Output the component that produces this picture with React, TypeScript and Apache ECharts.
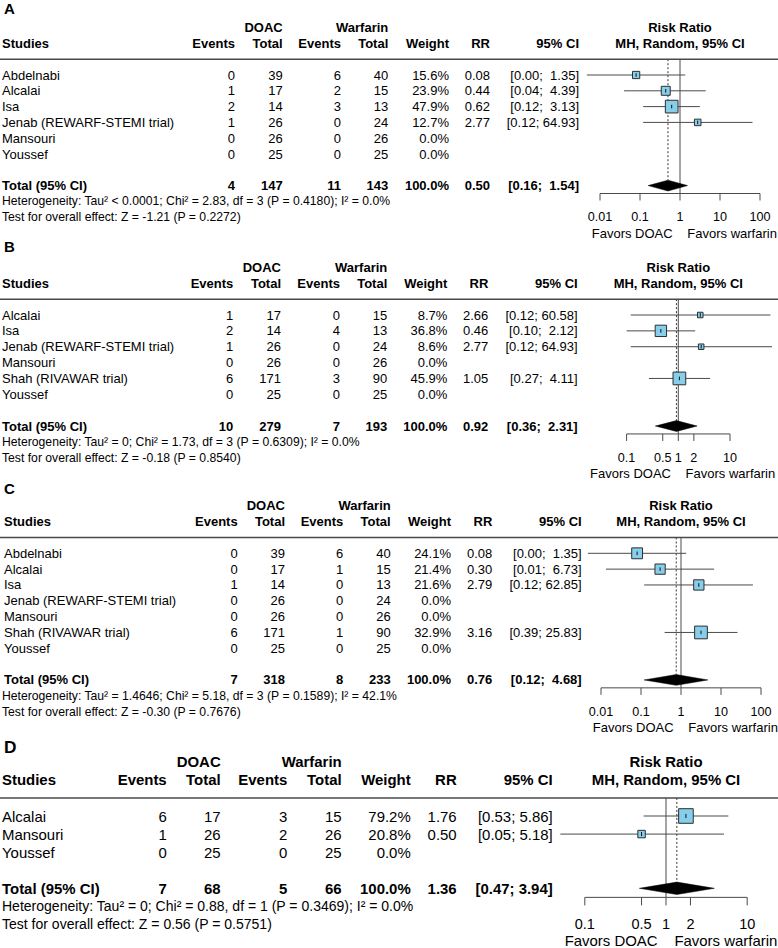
import React, { useEffect, useRef } from "react";
import * as echarts from "echarts";

const FONT = '"Liberation Sans", Arial, Helvetica, sans-serif';
const INK = "#000000";
const LINE = "#4a4a4a";
const BOX_FILL = "#87CEEB";
const BOX_EDGE = "#2e2e2e";

// ---------- Panel A ----------
const studiesA = ["Abdelnabi", "Alcalai", "Isa", "Jenab (REWARF-STEMI trial)", "Mansouri", "Youssef"];
const doacEventsA = [0, 1, 2, 1, 0, 0];
const doacTotalA = [39, 17, 14, 26, 26, 25];
const warfEventsA = [6, 2, 3, 0, 0, 0];
const warfTotalA = [40, 15, 13, 24, 26, 25];
const weightA = [15.6, 23.9, 47.9, 12.7, 0, 0];
const rrA = [0.08, 0.44, 0.62, 2.77, null, null];
const lowerA = [0.0047, 0.04, 0.12, 0.12, null, null];
const upperA = [1.35, 4.39, 3.13, 64.93, null, null];
const totalCountsA = [4, 147, 11, 143];
const pooledA = [0.5, 0.16, 1.54];
const hetA = "Heterogeneity: Tau² < 0.0001; Chi² = 2.83, df = 3 (P = 0.4180); I² = 0.0%";
const testA = "Test for overall effect: Z = -1.21 (P = 0.2272)";
const ticksA = [0.01, 0.1, 1, 10, 100];

// ---------- Panel B ----------
const studiesB = ["Alcalai", "Isa", "Jenab (REWARF-STEMI trial)", "Mansouri", "Shah (RIVAWAR trial)", "Youssef"];
const doacEventsB = [1, 2, 1, 0, 6, 0];
const doacTotalB = [17, 14, 26, 26, 171, 25];
const warfEventsB = [0, 4, 0, 0, 3, 0];
const warfTotalB = [15, 13, 24, 26, 90, 25];
const weightB = [8.7, 36.8, 8.6, 0, 45.9, 0];
const rrB = [2.66, 0.46, 2.77, null, 1.05, null];
const lowerB = [0.12, 0.1, 0.12, null, 0.27, null];
const upperB = [60.58, 2.12, 64.93, null, 4.11, null];
const totalCountsB = [10, 279, 7, 193];
const pooledB = [0.92, 0.36, 2.31];
const hetB = "Heterogeneity: Tau² = 0; Chi² = 1.73, df = 3 (P = 0.6309); I² = 0.0%";
const testB = "Test for overall effect: Z = -0.18 (P = 0.8540)";
const ticksB = [0.1, 0.5, 1, 2, 10];

// ---------- Panel C ----------
const studiesC = ["Abdelnabi", "Alcalai", "Isa", "Jenab (REWARF-STEMI trial)", "Mansouri", "Shah (RIVAWAR trial)", "Youssef"];
const doacEventsC = [0, 0, 1, 0, 0, 6, 0];
const doacTotalC = [39, 17, 14, 26, 26, 171, 25];
const warfEventsC = [6, 1, 0, 0, 0, 1, 0];
const warfTotalC = [40, 15, 13, 24, 26, 90, 25];
const weightC = [24.1, 21.4, 21.6, 0, 0, 32.9, 0];
const rrC = [0.08, 0.3, 2.79, null, null, 3.16, null];
const lowerC = [0.0047, 0.0133, 0.12, null, null, 0.39, null];
const upperC = [1.35, 6.73, 62.85, null, null, 25.83, null];
const totalCountsC = [7, 318, 8, 233];
const pooledC = [0.76, 0.12, 4.68];
const hetC = "Heterogeneity: Tau² = 1.4646; Chi² = 5.18, df = 3 (P = 0.1589); I² = 42.1%";
const testC = "Test for overall effect: Z = -0.30 (P = 0.7676)";
const ticksC = [0.01, 0.1, 1, 10, 100];

// ---------- Panel D ----------
const studiesD = ["Alcalai", "Mansouri", "Youssef"];
const doacEventsD = [6, 1, 0];
const doacTotalD = [17, 26, 25];
const warfEventsD = [3, 2, 0];
const warfTotalD = [15, 26, 25];
const weightD = [79.2, 20.8, 0];
const rrD = [1.76, 0.5, null];
const lowerD = [0.53, 0.05, null];
const upperD = [5.86, 5.18, null];
const totalCountsD = [7, 68, 5, 66];
const pooledD = [1.36, 0.47, 3.94];
const hetD = "Heterogeneity: Tau² = 0; Chi² = 0.88, df = 1 (P = 0.3469); I² = 0.0%";
const testD = "Test for overall effect: Z = 0.56 (P = 0.5751)";
const ticksD = [0.1, 0.5, 1, 2, 10];

const headerCells = ["Studies", "Events", "Total", "Events", "Total", "Weight", "RR", "95% CI"];

// Page layout of each panel: row grid, scale factor, log-axis placement (log10 range kept inside the page) and column anchors
const layoutA = { row0: 75, rowH: 15.8, s: 1, x1: 680, dec: 40, logMin: -3, logMax: 2.2, letterRow: -4.22, favRow: 4, cols: [2, 235, 282.7, 341, 388.3, 449, 490, 579] };
const layoutB = { row0: 315, rowH: 15.86, s: 1, x1: 678.3, dec: 51.7, logMin: -2, logMax: 1.9, letterRow: -4.3, favRow: 4, cols: [2, 233.3, 281, 340, 387.3, 447.3, 488.3, 577.7] };
const layoutC = { row0: 553.3, rowH: 15.83, s: 1, x1: 681, dec: 40, logMin: -3, logMax: 2.2, letterRow: -4.1, favRow: 4, cols: [4, 237.7, 285, 343.3, 390.7, 451, 492.3, 581.7] };
const layoutD = { row0: 816, rowH: 18.08, s: 1.15, x1: 666, dec: 81.2, logMin: -2, logMax: 1.3, letterRow: -3.83, favRow: 3.86, cols: [2, 166.7, 220.7, 287.3, 341.7, 410.7, 456.7, 552.7] };

const panels = [
  { letter: "A", studies: studiesA, ev1: doacEventsA, tot1: doacTotalA, ev2: warfEventsA, tot2: warfTotalA, weight: weightA, rr: rrA, lo: lowerA, hi: upperA, totals: totalCountsA, pooled: pooledA, het: hetA, test: testA, ticks: ticksA, layout: layoutA },
  { letter: "B", studies: studiesB, ev1: doacEventsB, tot1: doacTotalB, ev2: warfEventsB, tot2: warfTotalB, weight: weightB, rr: rrB, lo: lowerB, hi: upperB, totals: totalCountsB, pooled: pooledB, het: hetB, test: testB, ticks: ticksB, layout: layoutB },
  { letter: "C", studies: studiesC, ev1: doacEventsC, tot1: doacTotalC, ev2: warfEventsC, tot2: warfTotalC, weight: weightC, rr: rrC, lo: lowerC, hi: upperC, totals: totalCountsC, pooled: pooledC, het: hetC, test: testC, ticks: ticksC, layout: layoutC },
  { letter: "D", studies: studiesD, ev1: doacEventsD, tot1: doacTotalD, ev2: warfEventsD, tot2: warfTotalD, weight: weightD, rr: rrD, lo: lowerD, hi: upperD, totals: totalCountsD, pooled: pooledD, het: hetD, test: testD, ticks: ticksD, layout: layoutD },
];

function txt(x: number, y: number, text: string, size: number, bold: boolean, align: string) {
  return {
    type: "text",
    silent: true,
    style: {
      x,
      y,
      text,
      fill: INK,
      fontFamily: FONT,
      fontSize: size,
      fontWeight: bold ? "bold" : "normal",
      align,
      verticalAlign: "middle",
    },
  };
}

// pad with no-break spaces so the SVG text keeps its alignment padding
const padLeft = (s: string, w: number) => (s.length >= w ? s : "\u00a0".repeat(w - s.length) + s);

function buildPanel(p: any, gi: number) {
  const L = p.layout;
  const n = p.studies.length;
  const yMin = -4.5;
  const yMax = n + 4.1;
  const grid = {
    left: L.x1 + L.logMin * L.dec,
    width: (L.logMax - L.logMin) * L.dec,
    top: L.row0 + yMin * L.rowH,
    height: (yMax - yMin) * L.rowH,
    containLabel: false,
  };
  const xAxis = { type: "log", logBase: 10, gridIndex: gi, min: Math.pow(10, L.logMin), max: Math.pow(10, L.logMax), show: false };
  const yAxis = { type: "value", gridIndex: gi, min: yMin, max: yMax, inverse: true, show: false };

  const maxW = Math.max(...p.weight);
  const hiStrings = p.hi.filter((v: any) => v != null).map((v: number) => v.toFixed(2)).concat([p.pooled[2].toFixed(2)]);
  const hiWidth = Math.max(...hiStrings.map((s: string) => s.length));
  const ciText = (lo: number, hi: number) => `[${lo.toFixed(2)}; ${padLeft(hi.toFixed(2), hiWidth)}]`;
  const fs = 13 * L.s;
  const fsFoot = 12.2 * L.s;
  const fsTick = 12.6 * L.s;
  const totalRow = n + 1;
  const axisRow = n + 1.5;
  const diamondHalf = 5.4 * L.s;

  const common = { type: "custom", xAxisIndex: gi, yAxisIndex: gi, clip: false, silent: true };

  // vertical reference lines: no effect (solid) and pooled estimate (dotted)
  const refs = {
    ...common,
    data: [[1, -1, p.pooled[0]]],
    renderItem: (_: any, api: any) => {
      const top = api.coord([1, -1]);
      const bottom = api.coord([1, axisRow]);
      const pTop = api.coord([api.value(2), -1]);
      const pBottom = api.coord([api.value(2), totalRow]);
      return {
        type: "group",
        children: [
          { type: "line", shape: { x1: top[0], y1: top[1], x2: bottom[0], y2: bottom[1] }, style: { stroke: LINE, lineWidth: 1 } },
          { type: "line", shape: { x1: pTop[0], y1: pTop[1], x2: pBottom[0], y2: pBottom[1] - diamondHalf }, style: { stroke: "#333", lineWidth: 1, lineDash: [2, 2] } },
        ],
      };
    },
  };

  // study estimates with confidence intervals
  const forestData: number[][] = [];
  p.rr.forEach((v: any, i: number) => {
    if (v != null) forestData.push([v, i, p.lo[i], p.hi[i], p.weight[i]]);
  });
  const forest = {
    ...common,
    data: forestData,
    renderItem: (_: any, api: any) => {
      const row = api.value(1);
      const c = api.coord([api.value(0), row]);
      const l = api.coord([api.value(2), row]);
      const h = api.coord([api.value(3), row]);
      const side = 12.7 * L.s * Math.sqrt(api.value(4) / maxW);
      const tick = 1.8 * L.s;
      return {
        type: "group",
        children: [
          { type: "line", shape: { x1: l[0], y1: c[1], x2: h[0], y2: c[1] }, style: { stroke: LINE, lineWidth: 1 } },
          { type: "rect", shape: { x: c[0] - side / 2, y: c[1] - side / 2, width: side, height: side }, style: { fill: BOX_FILL, stroke: BOX_EDGE, lineWidth: 1 } },
          { type: "line", shape: { x1: c[0], y1: c[1] - tick, x2: c[0], y2: c[1] + tick }, style: { stroke: "#111", lineWidth: 1 } },
        ],
      };
    },
  };

  // pooled random-effects diamond
  const diamond = {
    ...common,
    data: [[p.pooled[0], totalRow, p.pooled[1], p.pooled[2]]],
    renderItem: (_: any, api: any) => {
      const row = api.value(1);
      const c = api.coord([api.value(0), row]);
      const l = api.coord([api.value(2), row]);
      const h = api.coord([api.value(3), row]);
      return {
        type: "polygon",
        shape: { points: [[l[0], c[1]], [c[0], c[1] - diamondHalf], [h[0], c[1]], [c[0], c[1] + diamondHalf]] },
        style: { fill: "#000", stroke: "#000", lineWidth: 0.5 },
      };
    },
  };

  // risk-ratio axis: baseline, ticks, labels and direction captions
  const tickLen = 7 * L.s;
  const axis = {
    ...common,
    data: p.ticks.map((t: number) => [t, axisRow]),
    renderItem: (params: any, api: any) => {
      const pt = api.coord([api.value(0), axisRow]);
      const labelY = api.coord([1, n + 3])[1];
      const kids: any[] = [
        { type: "line", shape: { x1: pt[0], y1: pt[1], x2: pt[0], y2: pt[1] + tickLen }, style: { stroke: LINE, lineWidth: 1 } },
        txt(pt[0], labelY, String(p.ticks[params.dataIndex]), fsTick, false, "center"),
      ];
      if (params.dataIndex === 0) {
        const a = api.coord([p.ticks[0], axisRow]);
        const b = api.coord([p.ticks[p.ticks.length - 1], axisRow]);
        kids.push({ type: "line", shape: { x1: a[0], y1: a[1], x2: b[0], y2: b[1] }, style: { stroke: LINE, lineWidth: 1 } });
        const one = api.coord([1, n + L.favRow]);
        kids.push(txt(one[0] - 7.3 * L.s, one[1], "Favors DOAC", fs, false, "right"));
        kids.push(txt(one[0] + 7.3 * L.s, one[1], "Favors warfarin", fs, false, "left"));
      }
      return { type: "group", children: kids };
    },
  };

  // table: letter, headers, study rows, total row and footnotes
  const table = {
    ...common,
    data: [[1, 0]],
    renderItem: (_: any, api: any) => {
      const Y = (r: number) => api.coord([1, r])[1];
      const xc = api.coord([1, 0])[0];
      const c = L.cols;
      const kids: any[] = [];
      kids.push(txt(4, Y(L.letterRow), p.letter, 15 * L.s, true, "left"));
      kids.push(txt(c[2], Y(-3), "DOAC", fs, true, "right"));
      kids.push(txt(c[4], Y(-3), "Warfarin", fs, true, "right"));
      kids.push(txt(xc, Y(-3), "Risk Ratio", fs, true, "center"));
      headerCells.forEach((h, i) => kids.push(txt(c[i], Y(-2), h, fs, true, i === 0 ? "left" : "right")));
      kids.push(txt(xc, Y(-2), "MH, Random, 95% CI", fs, true, "center"));
      kids.push({ type: "line", shape: { x1: 0, y1: Y(-1), x2: 778, y2: Y(-1) }, style: { stroke: LINE, lineWidth: 1.5 } });
      for (let i = 0; i < n; i++) {
        const has = p.rr[i] != null;
        const cells = [
          p.studies[i],
          String(p.ev1[i]),
          String(p.tot1[i]),
          String(p.ev2[i]),
          String(p.tot2[i]),
          p.weight[i].toFixed(1) + "%",
          has ? p.rr[i].toFixed(2) : "",
          has ? ciText(p.lo[i], p.hi[i]) : "",
        ];
        cells.forEach((t, k) => {
          if (t) kids.push(txt(c[k], Y(i), t, fs, false, k === 0 ? "left" : "right"));
        });
      }
      const totalCells = [
        "Total (95% CI)",
        String(p.totals[0]),
        String(p.totals[1]),
        String(p.totals[2]),
        String(p.totals[3]),
        "100.0%",
        p.pooled[0].toFixed(2),
        ciText(p.pooled[1], p.pooled[2]),
      ];
      totalCells.forEach((t, k) => kids.push(txt(c[k], Y(totalRow), t, fs, true, k === 0 ? "left" : "right")));
      kids.push(txt(2, Y(n + 2), p.het, fsFoot, false, "left"));
      kids.push(txt(2, Y(n + 3), p.test, fsFoot, false, "left"));
      return { type: "group", children: kids };
    },
  };

  return { grid, xAxis, yAxis, series: [refs, forest, diamond, axis, table] };
}

export default function App() {
  const ref = useRef<HTMLDivElement>(null);
  useEffect(() => {
    if (!ref.current) return;
    const chart = echarts.init(ref.current, undefined, { renderer: "svg" });
    const parts = panels.map((p, i) => buildPanel(p, i));
    chart.setOption({
      animation: false,
      backgroundColor: "#ffffff",
      grid: parts.map((x) => x.grid),
      xAxis: parts.map((x) => x.xAxis),
      yAxis: parts.map((x) => x.yAxis),
      series: parts.flatMap((x) => x.series),
    });
    return () => chart.dispose();
  }, []);
  return <div ref={ref} style={{ position: "absolute", left: 0, top: 0, width: 778, height: 948 }} />;
}
